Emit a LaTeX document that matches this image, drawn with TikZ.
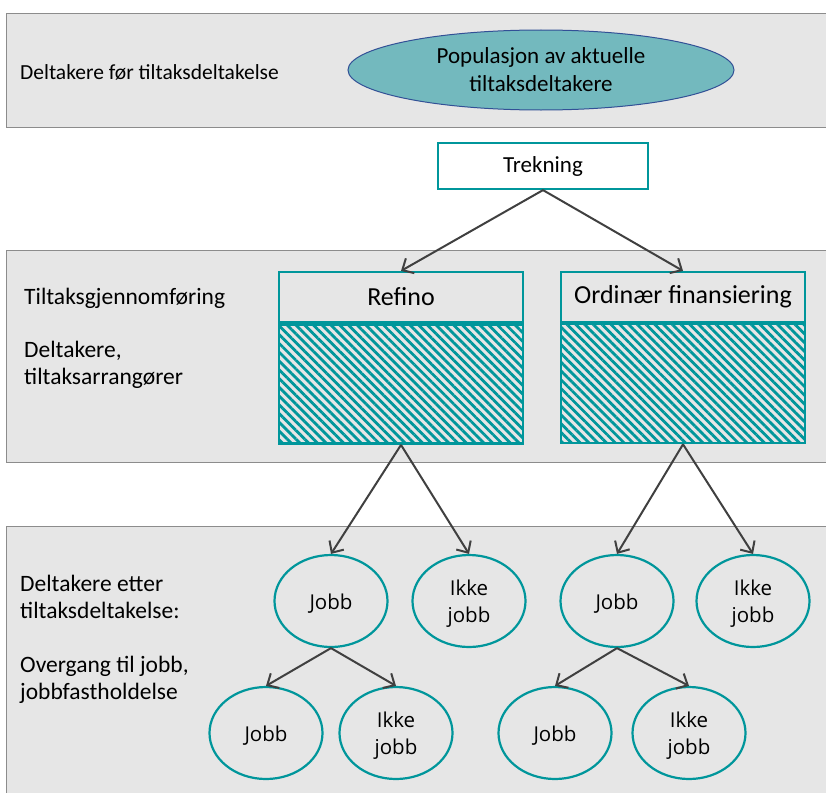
\documentclass[tikz,border=0pt]{standalone}
\usepackage{fontspec}
\setmainfont{Carlito}
\newfontfamily\circfont{Open Sans}
\usetikzlibrary{arrows.meta,patterns.meta,shapes.geometric}
\definecolor{tealc}{RGB}{0,150,155}
\definecolor{bandgray}{RGB}{230,230,230}
\definecolor{bandline}{RGB}{140,140,140}
\definecolor{ellfill}{RGB}{115,185,190}
\definecolor{ellline}{RGB}{50,80,150}
\definecolor{arrc}{RGB}{64,64,64}
\begin{document}
\begin{tikzpicture}[x=1pt,y=-1pt,
  band/.style={draw=bandline, fill=bandgray, line width=1.2pt, anchor=north west, inner sep=0pt},
  lbl/.style={anchor=west, font=\fontsize{23.5}{27}\selectfont, align=left, inner sep=0pt},
  hdr/.style={draw=tealc, line width=2.2pt, minimum width=244pt, minimum height=50pt, inner sep=0pt, font=\fontsize{26}{30}\selectfont},
  hatch/.style={draw=tealc, line width=2.2pt, minimum width=244pt, minimum height=119pt, inner sep=0pt,
     pattern={Lines[angle=-45,distance=6.2pt,line width=2.8pt]}, pattern color=tealc},
  circ/.style={ellipse, draw=tealc, line width=2.2pt, minimum width=113pt, minimum height=92pt, inner sep=0pt,
     label={[align=center, inner sep=0pt, yshift=-3pt, font=\circfont\fontsize{20.5}{27}\selectfont]center:#1}},
  arr/.style={draw=arrc, line width=2pt, -{Straight Barb[length=9pt,width=17pt,line width=2pt]}}]
\useasboundingbox (0,0) rectangle (826,792);
% bands
\node[band, minimum width=840pt, minimum height=114pt] (b1) at (6,13) {};
\node[band, minimum width=840pt, minimum height=212pt] (b2) at (6,250) {};
\node[band, minimum width=840pt, minimum height=280pt] (b3) at (6,526) {};
% left labels
\node[lbl, font=\fontsize{21.5}{26}\selectfont] (l1) at (20,72) {Deltakere før tiltaksdeltakelse};
\node[lbl] (l2) at (24,298) {Tiltaksgjennomføring};
\node[lbl] (l3) at (24,364.5) {Deltakere,\\tiltaksarrangører};
\node[lbl] (l4) at (20,596.5) {Deltakere etter\\tiltaksdeltakelse:};
\node[lbl] (l5) at (20,679.5) {Overgang til jobb,\\jobbfastholdelse};
% population
\node[ellipse, draw=ellline, fill=ellfill, line width=1pt, minimum width=386pt, minimum height=80pt, inner sep=0pt, align=center, font=\fontsize{23}{28}\selectfont] (pop) at (541,70) {Populasjon av aktuelle\\tiltaksdeltakere};
% trekning
\node[draw=tealc, fill=white, line width=2.2pt, minimum width=210pt, minimum height=46pt, inner sep=0pt, font=\fontsize{23}{27}\selectfont] (trek) at (543,166) {Trekning};
% program boxes
\node[hdr] (ref) at (401,297) {Refino};
\node[hatch, anchor=north] (refh) at (ref.south) {};
\node[hdr] (ord) at (683,297) {Ordinær finansiering};
\node[hatch, anchor=north] (ordh) at (ord.south) {};
% outcome circles
\node[circ={Jobb}] (j1) at (331,601) {};
\node[circ={Ikke\\jobb}] (i1) at (469,601) {};
\node[circ={Jobb}] (j11) at (266,733) {};
\node[circ={Ikke\\jobb}] (i11) at (396,733) {};
\node[circ={Jobb}] (j2) at (617,601) {};
\node[circ={Ikke\\jobb}] (i2) at (753,601) {};
\node[circ={Jobb}] (j21) at (555,733) {};
\node[circ={Ikke\\jobb}] (i21) at (689,733) {};
% arrows
\draw[arr] (trek.south) -- (ref.north);
\draw[arr] (trek.south) -- (ord.north);
\draw[arr] (refh.south) -- (j1.north);
\draw[arr] (refh.south) -- (i1.north);
\draw[arr] (ordh.south) -- (j2.north);
\draw[arr] (ordh.south) -- (i2.north);
\draw[arr] (j1.south) -- (j11.north);
\draw[arr] (j1.south) -- (i11.north);
\draw[arr] (j2.south) -- (j21.north);
\draw[arr] (j2.south) -- (i21.north);
\end{tikzpicture}
\end{document}
